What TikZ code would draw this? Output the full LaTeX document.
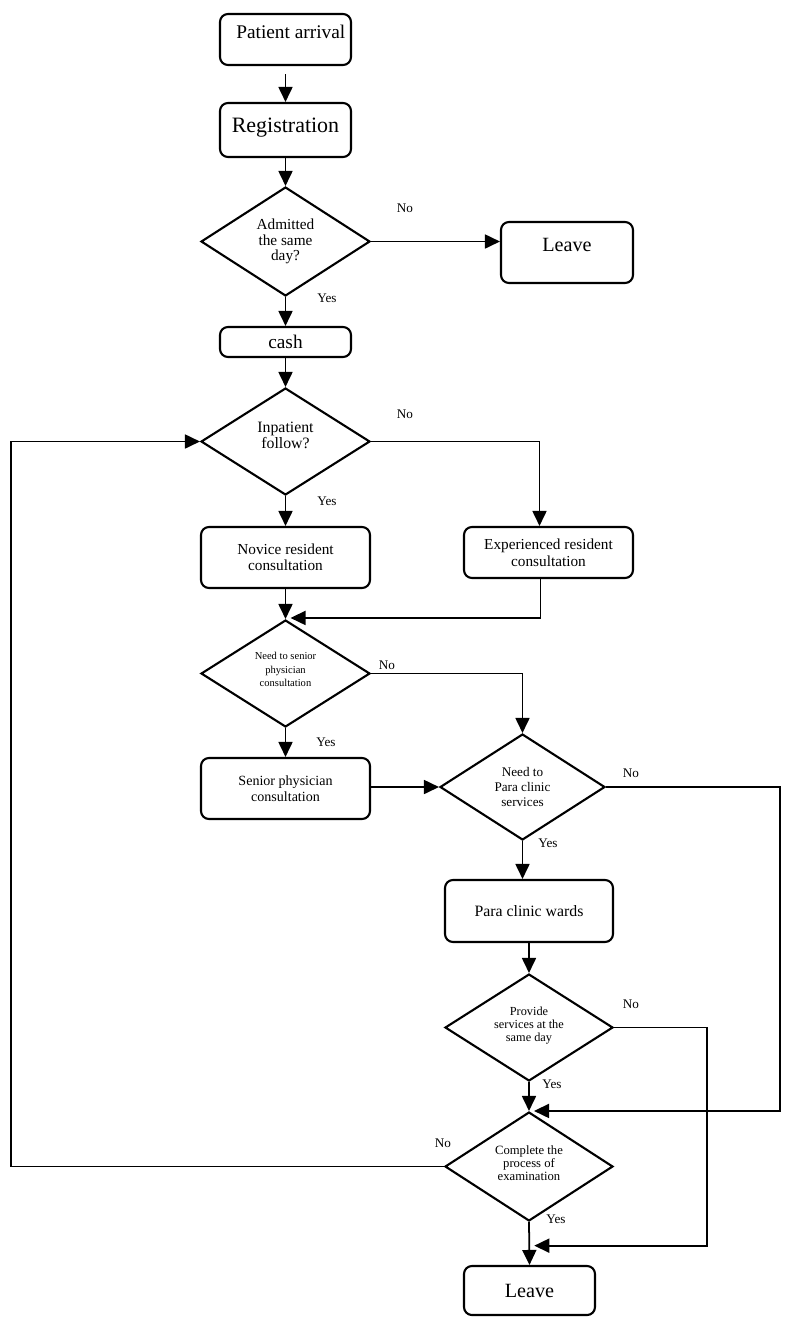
\documentclass[tikz,border=0pt]{standalone}
\usepackage{fontspec}
\setmainfont{Liberation Serif}
\usetikzlibrary{shapes.geometric,arrows.meta,calc}
\begin{document}
\begin{tikzpicture}[x=0.02cm,y=-0.02cm,
  box/.style={draw,line width=1.2pt,rounded corners=4.5pt,inner sep=0pt,align=center},
  dia/.style={draw,diamond,aspect=1.55,line width=1.2pt,inner sep=0pt,align=center},
  arr/.style={line width=1pt,-{Triangle[length=0.3cm,width=0.28cm]}},
  lab/.style={font=\fontsize{7.5}{9}\selectfont,inner sep=0pt}]
\useasboundingbox (0,0) rectangle (794,1329);

% boxes
\node[box,minimum width=2.62cm,minimum height=1.02cm,font=\fontsize{11}{13}\selectfont,text height=8pt,text depth=9pt] (pa) at (285.5,39.5) {\hspace*{6pt}Patient arrival};
\node[box,minimum width=2.62cm,minimum height=1.08cm,font=\fontsize{12.5}{14}\selectfont,text height=9pt,text depth=6.2pt] (reg) at (285.5,130) {Registration};
\node[dia,minimum width=3.38cm,minimum height=2.18cm,font=\fontsize{8.7}{9}\selectfont] (d1) at (285.5,241.5) {Admitted\\the same\\day?};
\node[box,minimum width=2.64cm,minimum height=1.22cm,font=\fontsize{11.5}{13}\selectfont,text height=8.5pt,text depth=10pt] (leave1) at (567,252.5) {Leave};
\node[box,minimum width=2.62cm,minimum height=0.6cm,font=\fontsize{11}{13}\selectfont] (cash) at (285.5,342) {cash};
\node[dia,minimum width=3.38cm,minimum height=2.14cm,font=\fontsize{9}{9}\selectfont] (d2) at (285.5,441.5) {Inpatient\\follow?\\[-1.5pt]};
\node[box,minimum width=3.38cm,minimum height=1.22cm,font=\fontsize{8.7}{9}\selectfont] (nov) at (285.5,557.5) {Novice resident\\consultation};
\node[box,minimum width=3.38cm,minimum height=1.02cm,font=\fontsize{8.7}{9.6}\selectfont] (exp) at (548.5,552.5) {Experienced resident\\consultation};
\node[dia,minimum width=3.38cm,minimum height=2.14cm,font=\fontsize{6}{7.7}\selectfont] (d3) at (285.5,673.5) {Need to senior\\physician\\consultation\\[-3.1pt]};
\node[box,minimum width=3.38cm,minimum height=1.22cm,font=\fontsize{8}{9}\selectfont] (sen) at (285.5,788.5) {Senior physician\\consultation};
\node[dia,minimum width=3.3cm,minimum height=2.12cm,font=\fontsize{7.5}{8.8}\selectfont] (d4) at (522.5,787) {Need to\\Para clinic\\services};
\node[box,minimum width=3.36cm,minimum height=1.24cm,font=\fontsize{9}{11}\selectfont] (para) at (529,911) {Para clinic wards};
\node[dia,minimum width=3.36cm,minimum height=2.14cm,font=\fontsize{7}{7.4}\selectfont] (d5) at (529,1027.5) {Provide\\services at the\\same day\\[-3.4pt]};
\node[dia,minimum width=3.36cm,minimum height=2.18cm,font=\fontsize{7.2}{7.4}\selectfont] (d6) at (529,1166.5) {Complete the\\process of\\examination\\[-3.4pt]};
\node[box,minimum width=2.62cm,minimum height=0.98cm,font=\fontsize{11.5}{13}\selectfont] (leave2) at (529.5,1290.5) {Leave};

% connectors
\draw[arr] ($(pa.south)+(0,8)$) -- (reg.north);
\draw[arr] (reg.south) -- (d1.north);
\draw[arr] (d1.east) -- (d1.east -| leave1.west);
\draw[arr] (d1.south) -- (cash.north);
\draw[arr] (cash.south) -- (d2.north);
\draw[arr] (d2.south) -- (nov.north);
\coordinate (e1) at ($(exp.north)+(-9,0)$);
\draw[arr] (d2.east) -| (e1);
\draw[arr] (nov.south) -- (d3.north);
\coordinate (e2) at ($(exp.south)+(-8,0)$);
\draw[arr] (e2) |- ($(d3.north)+(5,-1)$);
\draw[arr] (d3.east) -| (d4.north);
\draw[arr] (d3.south) -- (sen.north);
\draw[arr] (sen.east |- d4.west) -- (d4.west);
\draw[arr] (d4.east) -- ++(174,0) |- ($(d6.north)+(5,0)$);
\draw[arr] (d4.south) -- (d4.south |- para.north);
\draw[arr] (para.south) -- (d5.north);
\draw[arr] (d5.south) -- (d6.north);
\draw[arr] (d5.east) -- ++(93,0) |- ($(d6.south)!0.55!(leave2.north)+(5,0)$);
\draw[arr] (d6.west) -- ++(-433,0) |- (d2.west);
\draw[arr] (d6.south) -- (leave2.north);

% labels
\node[lab] (n1) at (405,208) {No};
\node[lab] (y1) at (327,298) {Yes};
\node[lab] (n2) at (405,414) {No};
\node[lab] (y2) at (327,501) {Yes};
\node[lab] (n3) at (387,665) {No};
\node[lab] (y3) at (326,742) {Yes};
\node[lab] (n4) at (631,773) {No};
\node[lab] (y4) at (548,843) {Yes};
\node[lab] (n5) at (631,1004) {No};
\node[lab] (y5) at (552,1084) {Yes};
\node[lab] (n6) at (443,1143) {No};
\node[lab] (y6) at (556,1219) {Yes};
\end{tikzpicture}
\end{document}
